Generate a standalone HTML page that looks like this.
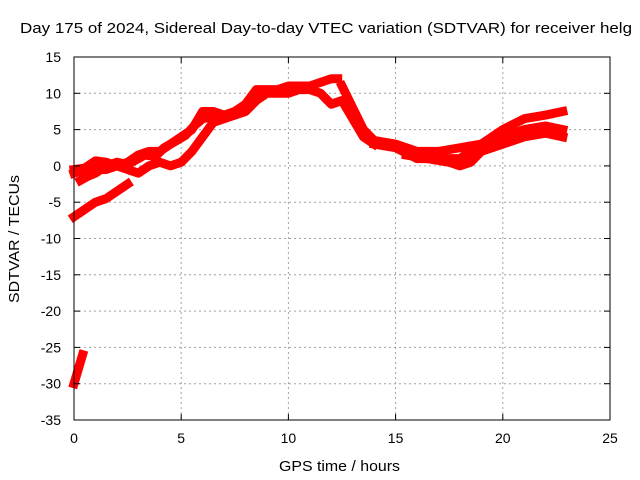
<!DOCTYPE html>
<html><head><meta charset="utf-8"><style>
body{margin:0;background:#fff}
svg{display:block;font-family:"Liberation Sans",sans-serif;font-size:14px}
</style></head><body>
<svg id="c" width="640" height="480">
<rect width="640" height="480" fill="#fff"/>
<text x="20" y="33" font-size="15" textLength="612" lengthAdjust="spacingAndGlyphs">Day 175 of 2024, Sidereal Day-to-day VTEC variation (SDTVAR) for receiver helg</text>
<g id="grid"></g>
<g id="series"></g>
<rect x="74" y="57" width="536" height="363" fill="none" stroke="#000" stroke-width="1"/>
<g id="axes"></g>
<text x="279" y="471" font-size="15" textLength="121" lengthAdjust="spacingAndGlyphs">GPS time / hours</text>
<text transform="translate(19,303) rotate(-90)" font-size="15" textLength="128" lengthAdjust="spacingAndGlyphs">SDTVAR / TECUs</text>
</svg>
<script>
const xTicks=[0,5,10,15,20,25];
const yTicks=[15,10,5,0,-5,-10,-15,-20,-25,-30,-35];
const trackA=[[0,-0.5],[0.5,-0.3],[1,0.7],[1.5,0.5],[2,0],[2.5,0.5],[3,1.5],[3.5,2],[4,2],[4.5,3],[5,4],[5.5,5],[6,7.5],[6.5,7.5],[7,7],[7.5,7.5],[8,8.5],[8.5,10.5],[9,10.5],[9.5,10.5],[10,11],[10.5,11],[11,11],[11.5,11.5],[12,12],[12.3,12]];
const trackB=[[0,-1],[0.5,-0.5],[1,-0.5],[1.5,-0.5],[2,0],[2.5,-0.5],[3,-1],[3.5,0],[4,0.5],[4.5,0],[5,0.5],[5.5,2],[6,4],[6.5,6],[7,6.5],[7.5,7],[8,7.5],[8.5,9],[9,10],[9.5,10],[10,10],[10.5,10.5],[11,10.5],[11.5,10],[12,8.5],[12.5,9],[13,6.5],[13.5,4],[14,3]];
const trackC=[[0.3,-2],[0.6,-1.5],[1,-1],[1.5,0],[2,0.5],[2.5,0.2],[3,1],[3.3,1.5],[3.8,1.3],[4.2,2.5],[4.8,3.5],[5.2,4.2],[5.6,5.5],[6,6.5],[6.5,6.8],[7,7]];
const trackD=[[0,-7],[0.5,-6],[1,-5],[1.5,-4.5],[2,-3.5],[2.5,-2.5]];
const trackE=[[0,-30],[0.2,-28],[0.4,-26]];
const trackF=[[12.5,11],[13,8],[13.5,5],[14,3.5],[15,3],[16,2],[17,2],[18,2.5],[19,3],[20,5],[21,6.5],[22,7],[22.8,7.5]];
const trackG=[[14,3],[15,2.5],[16,1],[17,1],[18,1],[18.5,2],[19,2.5],[20,4],[21,5],[22,5.5],[22.8,5]];
const trackH=[[15.5,1.5],[16.5,1],[17.5,0.5],[18,0],[18.5,0.5],[19,2],[20,3],[21,4],[22,4.5],[22.8,4]];
const tracks=[trackA,trackB,trackC,trackD,trackE,trackF,trackG,trackH];
const X0=74,X1=610,Y0=420,Y1=57;
const xs=v=>X0+(v-0)/(25-0)*(X1-X0);
const ys=v=>Y0-(v+35)/(50)*(Y0-Y1);
const NS="http://www.w3.org/2000/svg";
const grid=document.getElementById('grid'),axes=document.getElementById('axes'),ser=document.getElementById('series');
function mk(tag,attrs,parent){const e=document.createElementNS(NS,tag);for(const k in attrs)e.setAttribute(k,attrs[k]);parent.appendChild(e);return e;}
xTicks.forEach(t=>{const x=xs(t);
 if(t>0&&t<25){const g=mk('line',{x1:x,x2:x,y1:Y1,y2:Y0,stroke:'#a0a0a0','stroke-dasharray':'2,3'},grid);
 
 }
 mk('line',{x1:x,x2:x,y1:Y0,y2:Y0-6,stroke:'#000'},axes);
 mk('line',{x1:x,x2:x,y1:Y1,y2:Y1+6,stroke:'#000'},axes);
 const l=mk('text',{x:x,y:Y0+23,'text-anchor':'middle'},axes);l.textContent=t;
 
 
});
yTicks.forEach(t=>{const y=ys(t);
 if(t<15&&t>-35){const g=mk('line',{x1:X0,x2:X1,y1:y,y2:y,stroke:'#a0a0a0','stroke-dasharray':'2,3'},grid);
 
 }
 mk('line',{x1:X0,x2:X0+6,y1:y,y2:y,stroke:'#000'},axes);
 mk('line',{x1:X1,x2:X1-6,y1:y,y2:y,stroke:'#000'},axes);
 const l=mk('text',{x:X0-13,y:y+5,'text-anchor':'end'},axes);l.textContent=t;
 
 
});
tracks.forEach(tr=>{
 const p=mk('polyline',{points:tr.map(d=>xs(d[0])+','+ys(d[1])).join(' '),fill:'none',stroke:'#f00','stroke-width':9,'stroke-linejoin':'round','stroke-linecap':'square'},ser);
 
 
});
</script>
</body></html>
